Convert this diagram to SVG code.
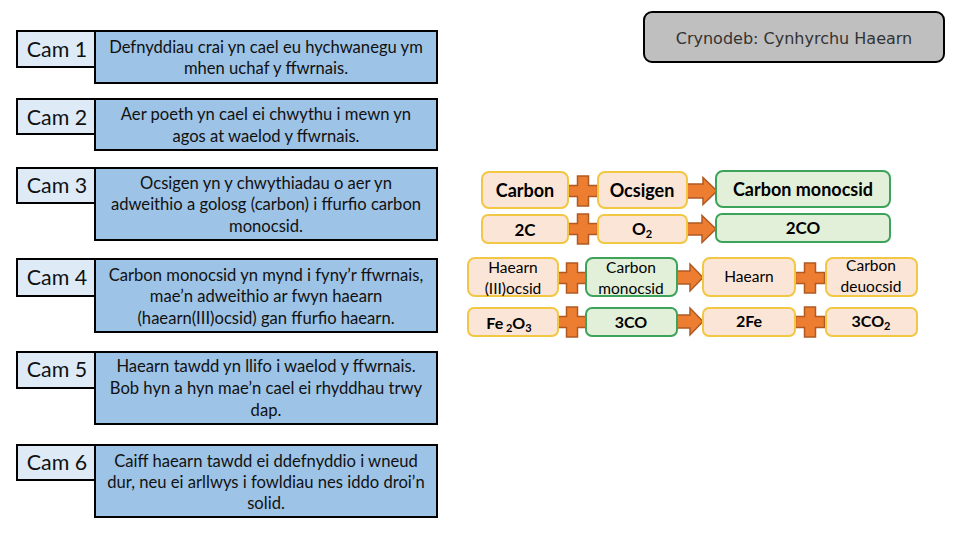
<svg xmlns="http://www.w3.org/2000/svg" width="960" height="540" viewBox="0 0 960 540">
<style>
.lab{fill:#deebf7;stroke:#000;stroke-width:2}
.desc{fill:#9dc3e6;stroke:#000;stroke-width:2}
.lt{font-family:Lato,"Liberation Sans",sans-serif;font-size:21.4px;fill:#111;text-anchor:middle}
.dt{font-family:Lato,"Liberation Sans",sans-serif;font-size:16.6px;fill:#111;text-anchor:middle}
.ob{fill:#fbe5d6;stroke:#f2c744;stroke-width:2}
.gb{fill:#e2f0d9;stroke:#3da35a;stroke-width:2}
.bt{font-family:Lato,"Liberation Sans",sans-serif;font-size:18px;font-weight:bold;fill:#000;text-anchor:middle}
.bs{font-family:Lato,"Liberation Sans",sans-serif;font-size:17px;font-weight:bold;fill:#000;text-anchor:middle}
.bx{font-family:Lato,"Liberation Sans",sans-serif;font-size:16px;font-weight:bold;fill:#000;text-anchor:middle}
.nt{font-family:Lato,"Liberation Sans",sans-serif;font-size:15.5px;fill:#000;text-anchor:middle}
.sub{font-size:11px}
.op{fill:#ed7d31;stroke:#b05a22;stroke-width:1.5}
.tt{font-family:"DejaVu Sans",sans-serif;font-size:16px;fill:#333;text-anchor:middle}
</style>
<defs>
<path id="plus" d="M-5.5,-15 H5.5 V-5.5 H14.5 V5.5 H5.5 V15 H-5.5 V5.5 H-14.5 V-5.5 H-5.5 Z"/>
</defs>

<g id="title">
<rect x="644" y="12" width="300" height="50" rx="8" fill="#bfbfbf" stroke="#000" stroke-width="2"/>
<text class="tt" x="794" y="44">Crynodeb: Cynhyrchu Haearn</text>
</g>

<g id="cam1">
<rect class="desc" x="95" y="31" width="342" height="52"/>
<rect class="lab" x="17" y="31" width="78" height="36"/>
<text class="lt" x="57" y="57">Cam 1</text>
<text class="dt" x="266" y="53">Defnyddiau crai yn cael eu hychwanegu ym</text>
<text class="dt" x="266" y="74">mhen uchaf y ffwrnais.</text>
</g>
<g id="cam2">
<rect class="desc" x="95" y="99" width="342" height="51"/>
<rect class="lab" x="17" y="99" width="78" height="35"/>
<text class="lt" x="57" y="125">Cam 2</text>
<text class="dt" x="266" y="120">Aer poeth yn cael ei chwythu i mewn yn</text>
<text class="dt" x="266" y="142">agos at waelod y ffwrnais.</text>
</g>
<g id="cam3">
<rect class="desc" x="95" y="168" width="342" height="72"/>
<rect class="lab" x="17" y="168" width="78" height="35"/>
<text class="lt" x="57" y="193">Cam 3</text>
<text class="dt" x="266" y="189">Ocsigen yn y chwythiadau o aer yn</text>
<text class="dt" x="266" y="210">adweithio a golosg (carbon) i ffurfio carbon</text>
<text class="dt" x="266" y="232">monocsid.</text>
</g>
<g id="cam4">
<rect class="desc" x="95" y="259" width="342" height="73"/>
<rect class="lab" x="17" y="259" width="78" height="37"/>
<text class="lt" x="57" y="285">Cam 4</text>
<text class="dt" x="266" y="281">Carbon monocsid yn mynd i fyny’r ffwrnais,</text>
<text class="dt" x="266" y="302">mae’n adweithio ar fwyn haearn</text>
<text class="dt" x="266" y="324">(haearn(III)ocsid) gan ffurfio haearn.</text>
</g>
<g id="cam5">
<rect class="desc" x="95" y="352" width="342" height="72"/>
<rect class="lab" x="17" y="352" width="78" height="36"/>
<text class="lt" x="57" y="377">Cam 5</text>
<text class="dt" x="266" y="372">Haearn tawdd yn llifo i waelod y ffwrnais.</text>
<text class="dt" x="266" y="394">Bob hyn a hyn mae’n cael ei rhyddhau trwy</text>
<text class="dt" x="266" y="416">dap.</text>
</g>
<g id="cam6">
<rect class="desc" x="95" y="445" width="342" height="72"/>
<rect class="lab" x="17" y="445" width="78" height="35"/>
<text class="lt" x="57" y="470">Cam 6</text>
<text class="dt" x="266" y="467">Caiff haearn tawdd ei ddefnyddio i wneud</text>
<text class="dt" x="266" y="488">dur, neu ei arllwys i fowldiau nes iddo droi’n</text>
<text class="dt" x="266" y="509">solid.</text>
</g>

<g id="connectors">
<use href="#plus" class="op" x="583" y="191"/>
<use href="#plus" class="op" x="583" y="229"/>
<use href="#plus" class="op" x="572" y="278"/>
<use href="#plus" class="op" x="572" y="322"/>
<use href="#plus" class="op" x="810" y="278"/>
<use href="#plus" class="op" x="810" y="322"/>
<path class="op" d="M687,184 H703 V177.5 L717,191 L703,204.5 V198 H687 Z"/>
<path class="op" d="M687,223 H702 V215.5 L716,229 L702,242.5 V235 H687 Z"/>
<path class="op" d="M677,271 H690 V264 L703,277.5 L690,291 V284 H677 Z"/>
<path class="op" d="M677,315 H690 V308 L703,321.5 L690,335 V328 H677 Z"/>
</g>

<g id="carbon">
<rect class="ob" x="482" y="172" width="86" height="36" rx="7"/>
<text class="bt" x="525" y="197">Carbon</text>
</g>
<g id="ocsigen">
<rect class="ob" x="598" y="172" width="89" height="36" rx="7"/>
<text class="bt" x="642" y="197">Ocsigen</text>
</g>
<g id="carbon-monocsid">
<rect class="gb" x="716" y="171" width="174" height="36" rx="7"/>
<text class="bt" x="803" y="196">Carbon monocsid</text>
</g>
<g id="c2">
<rect class="ob" x="482" y="215" width="86" height="28" rx="6"/>
<text class="bs" x="525" y="236">2C</text>
</g>
<g id="o2">
<rect class="ob" x="598" y="215" width="89" height="28" rx="6"/>
<text class="bs" x="642" y="235">O<tspan class="sub" dy="3">2</tspan></text>
</g>
<g id="co2x">
<rect class="gb" x="716" y="214" width="174" height="28" rx="6"/>
<text class="bs" x="803" y="234">2CO</text>
</g>

<g id="haearn-ocsid">
<rect class="ob" x="468" y="258" width="90" height="38" rx="7"/>
<text class="nt" x="513" y="273">Haearn</text>
<text class="nt" x="513" y="294">(III)ocsid</text>
</g>
<g id="carbon-monocsid-2">
<rect class="gb" x="586" y="258" width="91" height="38" rx="7"/>
<text class="nt" x="631" y="273">Carbon</text>
<text class="nt" x="631" y="294">monocsid</text>
</g>
<g id="haearn">
<rect class="ob" x="703" y="258" width="92" height="38" rx="7"/>
<text class="nt" x="749" y="282">Haearn</text>
</g>
<g id="carbon-deuocsid">
<rect class="ob" x="826" y="258" width="91" height="38" rx="7"/>
<text class="nt" x="871" y="271">Carbon</text>
<text class="nt" x="871" y="292">deuocsid</text>
</g>

<g id="fe2o3">
<rect class="ob" x="468" y="308" width="90" height="28" rx="6"/>
<text class="bx" x="509" y="329">Fe<tspan class="sub" dy="3"> 2</tspan><tspan dy="-3">O</tspan><tspan class="sub" dy="3">3</tspan></text>
</g>
<g id="co3">
<rect class="gb" x="586" y="308" width="91" height="28" rx="6"/>
<text class="bx" x="631" y="328">3CO</text>
</g>
<g id="fe2">
<rect class="ob" x="703" y="308" width="92" height="28" rx="6"/>
<text class="bx" x="749" y="327">2Fe</text>
</g>
<g id="co2">
<rect class="ob" x="826" y="308" width="91" height="28" rx="6"/>
<text class="bx" x="871" y="327">3CO<tspan class="sub" dy="3">2</tspan></text>
</g>
</svg>
